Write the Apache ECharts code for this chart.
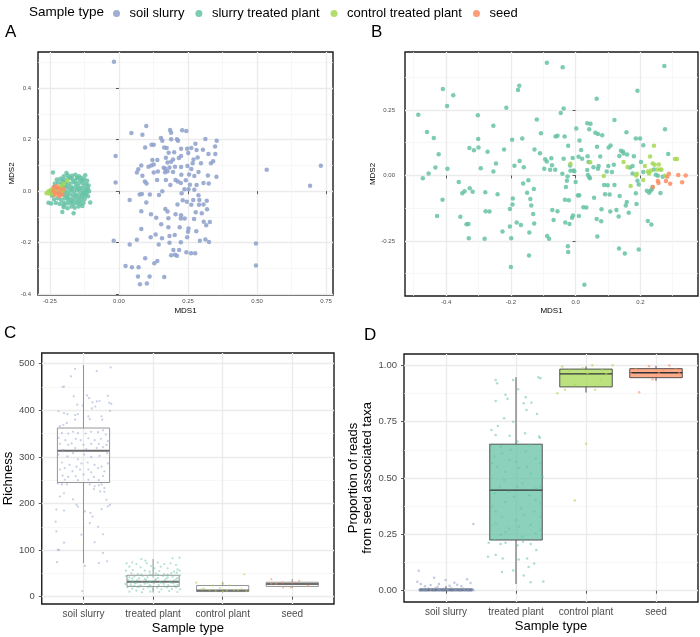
<!DOCTYPE html>
<html>
<head>
<meta charset="utf-8">
<script src="https://cdn.jsdelivr.net/npm/echarts@6/dist/echarts.min.js"></script>
<style>
  html, body { margin: 0; padding: 0; background: #fff; }
  #chart { width: 700px; height: 637px; }
</style>
</head>
<body>
<div id="chart"></div>
<script>
// ---- data ----
var groupNames = ["soil slurry", "slurry treated plant", "control treated plant", "seed"];
var boxCats = ["soil slurry", "treated plant", "control plant", "seed"];
var colors = ["#8DA0CB", "#66C2A5", "#A6D854", "#FC8D62"];

// A: NMDS of all samples
var mdsA_soil = [
  [-0.018,0.502],[-0.012,0.136],[-0.012,0.034],[-0.019,-0.192],[0.099,0.253],[0.045,0.226],[0.085,0.219],
  [0.185,0.237],[0.189,0.227],[0.229,0.236],[0.244,0.233],[0.152,0.206],[0.118,0.180],[0.126,0.180],
  [0.157,0.196],[0.189,0.201],[0.210,0.201],[0.214,0.196],[0.095,0.169],[0.164,0.169],[0.173,0.167],
  [0.225,0.165],[0.247,0.165],[0.262,0.167],[0.281,0.160],[0.304,0.161],[0.313,0.202],[0.354,0.196],
  [0.348,0.173],[0.277,0.184],[0.251,0.148],[0.324,0.144],[0.349,0.144],[0.180,0.149],[0.200,0.151],
  [0.217,0.129],[0.225,0.136],[0.121,0.121],[0.139,0.121],[0.170,0.130],[0.196,0.123],[0.176,0.111],
  [0.189,0.114],[0.267,0.108],[0.297,0.108],[0.333,0.108],[0.341,0.116],[0.285,0.131],[0.270,0.123],
  [0.081,0.100],[0.107,0.095],[0.117,0.100],[0.126,0.103],[0.162,0.091],[0.168,0.087],[0.183,0.092],
  [0.203,0.095],[0.225,0.094],[0.248,0.098],[0.262,0.086],[0.288,0.074],[0.070,0.085],[0.065,0.072],
  [0.085,0.060],[0.126,0.072],[0.141,0.076],[0.167,0.073],[0.176,0.077],[0.196,0.074],[0.226,0.064],
  [0.254,0.065],[0.273,0.059],[0.322,0.061],[0.353,0.056],[0.325,0.030],[0.306,0.032],[0.094,0.037],
  [0.100,0.030],[0.138,0.043],[0.170,0.043],[0.186,0.024],[0.205,0.043],[0.213,0.037],[0.224,0.032],
  [0.242,0.042],[0.257,0.025],[0.281,0.024],[0.039,-0.034],[0.075,-0.013],[0.083,-0.011],[0.112,-0.013],
  [0.145,-0.015],[0.099,-0.044],[0.157,0.000],[0.227,-0.008],[0.237,0.007],[0.252,0.007],[0.273,0.005],
  [0.288,-0.016],[0.231,-0.035],[0.246,-0.041],[0.269,-0.034],[0.291,-0.034],[0.318,-0.037],[0.262,-0.053],
  [0.290,-0.053],[0.306,-0.052],[0.212,-0.052],[0.081,-0.078],[0.116,-0.090],[0.168,-0.069],[0.176,-0.079],
  [0.205,-0.090],[0.225,-0.094],[0.238,-0.106],[0.278,-0.082],[0.300,-0.086],[0.319,-0.070],[0.135,-0.103],
  [0.153,-0.128],[0.179,-0.105],[0.224,-0.106],[0.272,-0.108],[0.307,-0.119],[0.329,-0.120],[0.081,-0.147],
  [0.179,-0.140],[0.220,-0.140],[0.252,-0.145],[0.280,-0.156],[0.316,-0.132],[0.115,-0.179],[0.133,-0.168],
  [0.156,-0.183],[0.183,-0.174],[0.202,-0.170],[0.247,-0.179],[0.250,-0.158],[0.293,-0.192],[0.313,-0.188],
  [0.326,-0.197],[0.224,-0.198],[0.065,-0.189],[0.039,-0.207],[0.144,-0.207],[0.183,-0.200],[0.197,-0.228],
  [0.203,-0.247],[0.189,-0.249],[0.210,-0.251],[0.218,-0.228],[0.244,-0.237],[0.261,-0.241],[0.276,-0.241],
  [0.095,-0.260],[0.139,-0.271],[0.128,-0.280],[0.024,-0.290],[0.047,-0.295],[0.071,-0.295],[0.069,-0.331],
  [0.076,-0.361],[0.101,-0.358],[0.111,-0.331],[0.164,-0.333],[0.496,-0.203],[0.496,-0.289],[0.535,0.083],
  [0.692,0.021],[0.731,0.099]
];
var mdsA_treated = [
  [-0.2,0.058],[-0.185,0.062],[-0.17,0.06],[-0.158,0.064],[-0.145,0.058],[-0.135,0.052],
  [-0.225,0.045],[-0.212,0.048],[-0.198,0.044],[-0.183,0.05],[-0.168,0.046],[-0.152,0.05],[-0.14,0.044],[-0.125,0.046],[-0.115,0.04],
  [-0.232,0.03],[-0.22,0.034],[-0.207,0.028],[-0.194,0.034],[-0.18,0.03],[-0.166,0.035],[-0.155,0.028],[-0.143,0.033],[-0.13,0.03],[-0.118,0.028],[-0.11,0.022],
  [-0.236,0.016],[-0.21,0.014],[-0.197,0.018],[-0.186,0.012],[-0.174,0.018],[-0.16,0.014],[-0.148,0.019],[-0.136,0.013],[-0.124,0.017],[-0.112,0.01],
  [-0.248,0.002],[-0.198,0.0],[-0.188,-0.004],[-0.176,0.003],[-0.164,-0.002],[-0.152,0.004],[-0.14,-0.003],[-0.128,0.002],[-0.116,-0.004],[-0.108,0.0],
  [-0.242,-0.018],[-0.2,-0.014],[-0.19,-0.018],[-0.178,-0.012],[-0.166,-0.017],[-0.154,-0.013],[-0.142,-0.018],[-0.13,-0.012],[-0.12,-0.016],[-0.112,-0.02],
  [-0.235,-0.032],[-0.222,-0.028],[-0.21,-0.033],[-0.196,-0.028],[-0.184,-0.034],[-0.172,-0.03],[-0.16,-0.035],[-0.148,-0.029],[-0.136,-0.033],[-0.124,-0.03],
  [-0.228,-0.046],[-0.214,-0.05],[-0.2,-0.044],[-0.188,-0.048],[-0.176,-0.045],[-0.164,-0.05],[-0.152,-0.046],[-0.14,-0.05],[-0.128,-0.045],[-0.104,-0.044],
  [-0.245,-0.048],[-0.2,-0.062],[-0.186,-0.066],[-0.172,-0.06],[-0.16,-0.064],[-0.146,-0.06],[-0.132,-0.058],
  [-0.239,0.072],[-0.205,-0.081],[-0.164,-0.086],[-0.255,-0.045],[-0.19,0.07],[-0.122,0.062],
  [-0.205,0.04],[-0.19,0.022],[-0.17,0.008],[-0.158,0.038],[-0.145,0.008],[-0.132,0.04],[-0.185,-0.025],[-0.17,-0.04],
  [-0.158,-0.022],[-0.145,-0.04],[-0.133,-0.022],[-0.2,-0.055],[-0.215,-0.01],[-0.205,0.025],[-0.175,0.052],[-0.125,-0.008],
  [-0.118,0.005],[-0.15,0.052]
];
var mdsA_control = [
  [-0.262,-0.008],[-0.255,0.0],[-0.25,-0.01],[-0.245,0.005],[-0.24,-0.012],[-0.232,0.002],[-0.226,0.01],
  [-0.22,-0.004],[-0.21,0.02],[-0.205,0.0],[-0.187,0.04],[-0.2,0.028],[-0.215,0.012]
];
var mdsA_seed = [
  [-0.238,0.0],[-0.232,-0.015],[-0.228,-0.005],[-0.222,0.012],[-0.218,-0.01],[-0.212,0.005],
  [-0.215,-0.02],[-0.205,-0.012],[-0.2,0.008],[-0.226,0.02],[-0.235,0.015]
];

// B: NMDS of plant and seed samples
var mdsB_treated = [
  [-0.486,0.232],[-0.472,-0.011],[-0.459,0.166],[-0.454,0.007],[-0.438,0.143],[-0.433,0.030],[-0.423,0.081],
  [-0.428,-0.155],[-0.410,0.330],[-0.411,-0.093],[-0.397,0.265],[-0.396,0.026],[-0.378,0.306],[-0.361,-0.025],
  [-0.356,-0.158],[-0.350,-0.068],[-0.343,-0.060],[-0.337,-0.186],[-0.331,-0.185],[-0.330,-0.240],[-0.327,-0.049],
  [-0.328,0.105],[-0.318,-0.062],[-0.314,0.096],[-0.302,0.230],[-0.301,0.139],[-0.300,0.107],[-0.293,0.027],
  [-0.281,-0.242],[-0.279,-0.064],[-0.278,-0.137],[-0.272,0.090],[-0.266,-0.138],[-0.254,0.190],[-0.254,0.015],
  [-0.246,0.046],[-0.241,-0.072],[-0.226,-0.214],[-0.221,0.099],[-0.214,0.258],[-0.203,-0.128],[-0.203,-0.195],
  [-0.200,-0.349],[-0.199,-0.240],[-0.196,0.136],[-0.195,-0.111],[-0.194,-0.088],[-0.189,0.037],[-0.182,-0.180],
  [-0.178,0.326],[-0.174,0.342],[-0.173,0.055],[-0.169,-0.189],[-0.165,0.141],[-0.162,-0.031],[-0.160,0.031],
  [-0.150,-0.066],[-0.146,-0.018],[-0.144,-0.305],[-0.143,-0.218],[-0.140,-0.090],[-0.137,-0.115],[-0.131,-0.147],
  [-0.129,-0.052],[-0.128,-0.183],[-0.127,0.099],[-0.120,0.213],[-0.110,0.085],[-0.107,0.161],[-0.097,0.026],
  [-0.094,0.062],[-0.089,0.430],[-0.089,0.053],[-0.088,-0.231],[-0.082,-0.242],[-0.079,0.022],[-0.075,0.066],
  [-0.073,0.039],[-0.072,-0.132],[-0.068,-0.170],[-0.063,0.022],[-0.062,0.149],[-0.056,-0.137],[-0.056,0.151],
  [-0.046,0.238],[-0.040,0.413],[-0.041,0.006],[-0.037,0.255],[-0.037,0.064],[-0.034,0.149],[-0.033,-0.093],
  [-0.032,-0.180],[-0.030,-0.044],[-0.027,-0.020],[-0.025,-0.004],[-0.024,-0.270],[-0.023,-0.292],[-0.023,0.113],
  [-0.021,-0.095],[-0.019,-0.185],[-0.017,0.038],[-0.016,0.018],[-0.011,-0.161],[-0.009,0.067],[-0.008,-0.153],
  [-0.006,0.019],[-0.004,0.016],[0.000,-0.025],[0.002,0.179],[0.007,-0.077],[0.009,0.071],[0.010,-0.155],
  [0.011,-0.076],[0.012,0.133],[0.017,0.097],[0.020,0.064],[0.024,-0.121],[0.027,-0.417],[0.033,-0.122],
  [0.036,0.199],[0.036,0.021],[0.037,0.073],[0.038,0.002],[0.040,0.051],[0.042,0.176],[0.042,-0.006],
  [0.044,-0.011],[0.046,0.197],[0.055,0.031],[0.057,-0.085],[0.061,0.163],[0.065,0.293],[0.065,-0.166],
  [0.066,0.109],[0.067,-0.233],[0.069,0.158],[0.069,0.026],[0.071,0.036],[0.076,0.072],[0.079,-0.175],
  [0.080,-0.129],[0.082,0.153],[0.088,-0.036],[0.091,-0.072],[0.096,0.015],[0.099,-0.037],[0.101,0.036],
  [0.102,0.107],[0.105,-0.073],[0.107,-0.138],[0.108,0.114],[0.112,0.013],[0.118,0.041],[0.120,-0.036],
  [0.120,0.212],[0.126,-0.132],[0.133,-0.157],[0.134,-0.279],[0.135,0.074],[0.136,-0.078],[0.140,0.094],
  [0.146,0.091],[0.148,0.084],[0.152,-0.298],[0.155,-0.115],[0.157,0.165],[0.158,-0.101],[0.159,0.080],
  [0.164,-0.142],[0.168,0.030],[0.176,0.036],[0.176,0.007],[0.180,0.073],[0.186,-0.068],[0.188,-0.109],
  [0.191,0.323],[0.191,-0.020],[0.186,0.141],[0.195,-0.035],[0.195,-0.283],[0.199,0.141],[0.202,0.051],
  [0.209,0.115],[0.209,0.013],[0.220,-0.058],[0.223,-0.174],[0.227,-0.066],[0.231,-0.058],[0.234,-0.187],
  [0.235,-0.054],[0.238,-0.045],[0.242,0.023],[0.254,-0.001],[0.262,-0.067],[0.276,0.176],[0.274,0.418],
  [0.286,0.082],[0.248,0.003],[0.269,-0.005]
];
var mdsB_control = [
  [-0.016,0.045],[0.045,0.050],[0.087,-0.002],[0.148,0.051],[0.160,0.032],[0.170,-0.040],[0.187,0.000],
  [0.189,0.006],[0.209,-0.017],[0.214,0.036],[0.223,0.015],[0.227,0.007],[0.230,0.072],[0.233,0.019],
  [0.238,0.046],[0.242,0.113],[0.244,0.041],[0.252,0.023],[0.257,0.042],[0.261,0.023],[0.265,0.022],
  [0.307,0.063],[0.313,0.063],[0.276,-0.001]
];
var mdsB_seed = [
  [0.238,-0.044],[0.254,-0.021],[0.256,-0.029],[0.279,-0.021],[0.288,0.006],[0.292,-0.032],
  [0.317,0.002],[0.329,-0.026],[0.340,0.000],[0.283,-0.005]
];

// C: richness, box stats [min, q1, median, q3, max] and jittered samples [x, richness]
var richBox = [[72,245,313,362,497],[9,22,32,46,81],[9,11,13.5,24,32],[19,22,27,31,38]];
var rich_soil = [
  [0.88,489],[0.82,473],[1.19,484],[1.39,492],[0.70,450],[0.72,451],[0.86,430],[1.05,432],[1.08,426],[1.35,431],
  [1.13,417],[1.19,419],[1.23,420],[0.91,412],[0.99,410],[1.37,416],[1.40,414],[0.64,398],[0.72,394],[0.77,392],
  [0.88,390],[0.92,392],[1.12,404],[1.17,408],[1.38,399],[1.07,387],[1.26,387],[1.09,381],[0.71,369],[0.76,373],
  [0.88,380],[1.27,380],[0.66,366],[0.69,351],[0.78,350],[0.85,354],[0.92,351],[1.03,350],[1.11,354],[1.21,353],
  [1.28,357],[1.32,348],[0.64,341],[0.74,336],[0.89,339],[0.96,336],[1.07,340],[1.16,336],[1.25,339],[1.35,334],
  [0.66,328],[0.78,326],[0.83,329],[1.00,326],[1.11,328],[1.22,328],[1.33,326],[0.71,315],[0.88,319],[1.04,317],
  [1.19,319],[1.28,321],[0.64,305],[0.77,301],[0.85,308],[0.92,295],[1.01,305],[1.11,300],[1.23,302],[1.34,308],
  [0.69,288],[0.80,283],[0.90,279],[0.97,286],[1.06,288],[1.16,283],[1.26,279],[1.35,286],[0.66,273],[0.73,276],
  [0.84,269],[0.95,273],[1.07,273],[1.11,267],[1.21,276],[1.30,269],[0.70,260],[0.78,257],[0.89,259],[1.00,262],
  [1.15,257],[1.28,259],[0.73,251],[0.92,250],[1.07,251],[1.22,250],[0.63,243],[0.69,241],[0.76,241],[1.09,241],
  [1.16,237],[1.22,239],[1.26,241],[1.30,233],[1.15,231],[1.24,226],[1.30,225],[0.72,222],[0.66,215],[0.85,209],
  [1.33,208],[0.90,197],[0.92,193],[1.38,197],[1.35,194],[0.61,187],[0.72,185],[1.02,183],[1.10,180],[1.13,172],
  [1.26,188],[1.09,158],[1.21,150],[0.60,161],[0.61,140],[0.97,133],[1.28,134],[0.72,116],[1.16,117],[0.63,101],
  [0.65,100],[1.28,94],[0.62,74],[1.02,66],[1.22,72],[1.34,76],[0.98,12]
];
var rich_treated = [
  [1.83,80.9],[1.89,77.3],[1.70,73.8],[1.62,71.6],[1.76,70.2],[1.91,71.6],[2.28,82.3],[2.38,83.8],[2.07,73.1],[2.16,70.2],
  [2.25,71.6],[2.33,68],[1.66,64.4],[1.82,63],[1.97,65.8],[2.02,60.8],[2.11,64.4],[2.21,60.8],[2.35,58.6],[1.61,55.8],
  [1.71,57.2],[1.88,55.8],[1.95,53.7],[2.09,55.1],[2.30,53.7],[2.38,55.8],[1.69,50.1],[1.78,48.7],[2.04,50.1],[2.16,48.7],
  [2.26,50.1],[2.34,51.6],[1.61,44.4],[1.66,41.6],[1.73,43],[1.80,39.4],[1.85,44.4],[1.92,41.6],[2.00,43],[2.07,40.1],
  [2.14,44.4],[2.21,41.6],[2.28,43],[2.35,40.1],[2.39,45.8],[1.64,35.8],[1.71,33],[1.77,35.8],[1.84,31.5],[1.90,35.8],
  [1.96,32.2],[2.03,35.1],[2.10,31.5],[2.17,35.8],[2.24,32.2],[2.30,35.1],[2.37,31.5],[1.60,27.3],[1.68,25.1],[1.74,28.7],
  [1.82,24.4],[1.88,28],[1.95,24.4],[2.01,28.7],[2.08,25.1],[2.15,28],[2.22,24.4],[2.29,28.7],[2.35,25.1],[1.63,20.1],
  [1.70,17.3],[1.78,20.9],[1.86,16.6],[1.93,20.1],[2.00,15.8],[2.06,19.4],[2.12,15.8],[2.20,20.1],[2.27,16.6],[2.33,20.1],
  [2.39,15.8],[1.66,10.8],[1.76,12.9],[1.84,9.4],[1.96,10.8],[2.09,10.1],[2.23,12.2],[2.35,10.1],[1.70,38.8],[1.88,38],
  [2.04,37.3],[2.19,38.8],[2.33,37.3],[1.76,30.1],[1.92,30.1],[2.11,30.1],[2.26,30.1],[1.68,30.1],[1.80,21.6],[1.97,21.6],
  [2.16,21.6],[2.31,23],[1.73,23],[2.07,47.2],[1.96,47.2],[1.83,47.2],[2.21,47.2]
];
var rich_control = [
  [2.62,30],[2.73,17.2],[2.70,15.8],[2.86,23.6],[2.90,12.9],[2.96,18.6],[3.00,28.6],[3.00,11.5],
  [3.06,12.9],[3.10,24.3],[3.16,14.3],[3.22,14.3],[3.27,16.5],[3.31,47.9],[3.34,12.2],[2.81,14.3]
];
var rich_seed = [
  [3.70,37.6],[3.70,28.3],[3.77,27.6],[3.86,30.5],[3.87,19.7],[4.00,30.5],[4.10,34],[4.23,23.3],[3.98,19.7]
];

// D: proportion of reads from seed associated taxa
var propBox = [[0,0,0.003,0.008,0.02],[0.03,0.225,0.446,0.65,0.947],[0.879,0.904,0.962,0.983,0.995],[0.931,0.945,0.967,0.985,0.997]];
var prop_soil = [
  [0.62,0.004],[0.65,0.002],[0.67,0.008],[0.69,0.001],[0.71,0.005],[0.73,0.003],[0.75,0.01],[0.77,0.002],[0.79,0.006],
  [0.81,0.001],[0.83,0.004],[0.85,0.012],[0.87,0.003],[0.89,0.007],[0.91,0.002],[0.93,0.005],[0.95,0.001],[0.97,0.009],
  [0.99,0.003],[1.01,0.006],[1.03,0.002],[1.05,0.004],[1.07,0.011],[1.09,0.001],[1.11,0.005],[1.13,0.003],[1.15,0.008],
  [1.17,0.002],[1.19,0.006],[1.21,0.001],[1.23,0.004],[1.25,0.009],[1.27,0.002],[1.29,0.005],[1.31,0.003],[1.33,0.007],
  [1.35,0.001],[1.37,0.004],[1.39,0.002],[0.63,0.0],[0.68,0.003],[0.72,0.0],[0.78,0.004],[0.84,0.0],[0.9,0.002],
  [0.96,0.0],[1.02,0.003],[1.08,0.0],[1.14,0.002],[1.2,0.0],[1.26,0.003],[1.32,0.0],[1.38,0.006],
  [0.61,0.089],[0.83,0.058],[0.59,0.04],[0.995,0.048],[1.16,0.026],[1.30,0.051],[1.35,0.034],[0.64,0.03],[0.7,0.02],
  [0.78,0.025],[0.9,0.03],[1.05,0.022],[1.12,0.035],[1.22,0.02],[0.88,0.018],[1.39,0.296]
];
var prop_treated = [
  [1.71,0.935],[1.96,0.935],[2.32,0.947],[2.35,0.942],[2.03,0.894],[1.73,0.920],[1.85,0.869],[1.88,0.851],[1.71,0.842],
  [2.14,0.858],[2.11,0.831],[2.22,0.834],[1.83,0.765],[2.30,0.784],[2.15,0.802],[1.96,0.750],[1.74,0.731],[1.65,0.713],
  [1.71,0.691],[2.13,0.698],[2.33,0.684],[2.34,0.679],[1.91,0.687],[2.02,0.662],[1.78,0.640],[1.80,0.610],[2.14,0.617],
  [1.69,0.595],[1.91,0.580],[2.28,0.587],[2.35,0.565],[1.73,0.550],[2.04,0.543],[1.85,0.528],[2.21,0.520],[1.64,0.506],
  [2.38,0.506],[1.83,0.491],[2.09,0.476],[1.77,0.461],[2.28,0.454],[1.70,0.432],[1.97,0.417],[2.19,0.424],[1.85,0.395],
  [2.35,0.388],[1.66,0.373],[2.07,0.365],[2.26,0.351],[1.80,0.328],[2.00,0.313],[1.71,0.298],[2.21,0.291],[1.90,0.276],
  [2.35,0.269],[1.78,0.247],[2.09,0.239],[1.61,0.213],[1.70,0.225],[1.78,0.207],[1.85,0.213],[2.02,0.202],[2.10,0.217],
  [2.21,0.207],[2.29,0.181],[1.60,0.151],[1.71,0.158],[1.81,0.143],[2.04,0.139],[2.16,0.143],[2.26,0.121],[1.80,0.083],
  [2.18,0.105],[2.11,0.068],[2.21,0.038],[2.39,0.041],[1.96,0.090],[1.64,0.640],[1.92,0.625],[2.19,0.647],[1.66,0.565],
  [2.00,0.572],[2.16,0.550],[2.02,0.461],[2.35,0.461],[1.64,0.454],[1.90,0.439],[2.28,0.402],[1.71,0.351],[2.11,0.336],
  [2.35,0.328],[1.64,0.291],[2.04,0.284],[2.28,0.254],[1.85,0.261]
];
var prop_control = [
  [2.59,0.876],[2.70,0.891],[3.00,0.652],[2.84,0.400],[2.66,0.995],[2.76,0.977],[2.95,0.987],[3.09,1.0],
  [3.23,0.979],[3.38,1.0],[3.13,0.891],[3.02,0.965],[3.21,0.935],[2.85,0.913],[3.29,0.962]
];
var prop_seed = [
  [3.76,0.880],[3.64,0.965],[3.71,0.984],[3.95,0.938],[4.04,0.965],[4.19,0.999],[4.28,0.983],[4.33,0.965],[3.90,0.996],[4.11,0.979]
];

// ---- helpers ----
var FONT = "Liberation Sans, Arial, Helvetica, sans-serif";
var TICKC = "#4D4D4D";

function mainAxis(dim, grid, min, max, ticks, fmt, fs, margin, name, nameGap, nameSize) {
  return {
    type: "value", gridIndex: grid, min: min, max: max,
    position: dim === "x" ? "bottom" : "left",
    axisLine: { show: false },
    axisTick: { show: true, length: 3, customValues: ticks, lineStyle: { color: "#333", width: 0.8 } },
    axisLabel: { customValues: ticks, formatter: fmt, fontSize: fs, color: TICKC, margin: margin, fontFamily: FONT },
    splitLine: { show: true, lineStyle: { color: "#EBEBEB", width: 1.3 } },
    name: name, nameLocation: "middle", nameGap: nameGap,
    nameTextStyle: { fontSize: nameSize, color: "#000", fontFamily: FONT, lineHeight: nameSize + 1 }
  };
}
function minorAxis(dim, grid, min, max, vals) {
  return {
    type: "value", gridIndex: grid, min: min, max: max,
    position: dim === "x" ? "top" : "right",
    axisLine: { show: false },
    axisTick: { show: false, customValues: vals },
    axisLabel: { show: false, customValues: vals },
    splitLine: { show: true, lineStyle: { color: "#F3F3F3", width: 0.7 } }
  };
}
function fixed(n) { return function (v) { return (+v).toFixed(n); }; }
function catName(v) { var i = Math.round(v) - 1; return boxCats[i] || ""; }

function scatter(name, data, xi, yi, color, size, opacity) {
  return {
    type: "scatter", name: name, data: data, xAxisIndex: xi, yAxisIndex: yi,
    symbolSize: size, silent: true,
    itemStyle: { color: color, opacity: opacity }
  };
}
function boxSeries(stats, xi, yi, fills, stroke, medStroke, medWidth) {
  return {
    type: "custom", xAxisIndex: xi, yAxisIndex: yi, silent: true,
    data: stats.map(function (b, i) { return [i + 1].concat(b); }),
    encode: { x: 0, y: [1, 5] },
    renderItem: function (params, api) {
      var x = api.value(0), lo = api.value(1), q1 = api.value(2), med = api.value(3), q3 = api.value(4), hi = api.value(5);
      var hw = 0.375;
      var tl = api.coord([x - hw, q3]), br = api.coord([x + hw, q1]);
      var top = api.coord([x, hi]), bot = api.coord([x, lo]);
      var m1 = api.coord([x - hw, med]), m2 = api.coord([x + hw, med]);
      return {
        type: "group",
        children: [
          { type: "line", shape: { x1: top[0], y1: top[1], x2: top[0], y2: tl[1] }, style: { stroke: stroke, lineWidth: 0.9 } },
          { type: "line", shape: { x1: bot[0], y1: br[1], x2: bot[0], y2: bot[1] }, style: { stroke: stroke, lineWidth: 0.9 } },
          { type: "rect", shape: { x: tl[0], y: tl[1], width: br[0] - tl[0], height: Math.max(br[1] - tl[1], 0.5) },
            style: { fill: fills[params.dataIndex], stroke: stroke, lineWidth: 0.9 } },
          { type: "line", shape: { x1: m1[0], y1: m1[1], x2: m2[0], y2: m2[1] }, style: { stroke: medStroke, lineWidth: medWidth } }
        ]
      };
    }
  };
}

var chart = echarts.init(document.getElementById("chart"), null, { renderer: "canvas" });

var gridStyle = { show: true, borderColor: "#1A1A1A", borderWidth: 1.4, backgroundColor: "#fff", containLabel: false };
var grids = [
  Object.assign({ left: 38, top: 52, width: 295, height: 243 }, gridStyle),
  Object.assign({ left: 405, top: 52, width: 293, height: 244 }, gridStyle),
  Object.assign({ left: 39, top: 353, width: 295, height: 251 }, gridStyle),
  Object.assign({ left: 404, top: 354, width: 294, height: 248 }, gridStyle)
];

var xAxes = [
  mainAxis("x", 0, -0.293, 0.775, [-0.25, 0, 0.25, 0.5, 0.75], fixed(2), 6, 3.5, "MDS1", 11, 8),
  minorAxis("x", 0, -0.293, 0.775, [-0.125, 0.125, 0.375, 0.625]),
  mainAxis("x", 1, -0.527, 0.378, [-0.4, -0.2, 0, 0.2], fixed(1), 6, 3.5, "MDS1", 10, 8),
  minorAxis("x", 1, -0.527, 0.378, [-0.5, -0.3, -0.1, 0.1, 0.3]),
  mainAxis("x", 2, 0.4, 4.6, [1, 2, 3, 4], catName, 10, 5, "Sample type", 17, 13),
  mainAxis("x", 3, 0.4, 4.6, [1, 2, 3, 4], catName, 10, 5, "Sample type", 17, 13)
];
var yAxes = [
  mainAxis("y", 0, -0.403, 0.54, [-0.4, -0.2, 0, 0.2, 0.4], fixed(1), 6, 7, "MDS2", 15, 8),
  minorAxis("y", 0, -0.403, 0.54, [-0.3, -0.1, 0.1, 0.3, 0.5]),
  mainAxis("y", 1, -0.46, 0.471, [-0.25, 0, 0.25], fixed(2), 6, 10, "MDS2", 18, 8),
  minorAxis("y", 1, -0.46, 0.471, [-0.375, -0.125, 0.125, 0.375]),
  mainAxis("y", 2, -15.7, 523, [0, 100, 200, 300, 400, 500], fixed(0), 9.5, 7, "Richness", 25, 13),
  minorAxis("y", 2, -15.7, 523, [50, 150, 250, 350, 450]),
  mainAxis("y", 3, -0.05, 1.05, [0, 0.25, 0.5, 0.75, 1], fixed(2), 9.5, 7, "Proportion of reads\nfrom seed associated taxa", 22, 13),
  minorAxis("y", 3, -0.05, 1.05, [0.125, 0.375, 0.625, 0.875])
];

var boxFillsC = ["rgba(255,255,255,0)", "rgba(255,255,255,0)", "rgba(255,255,255,0)", "rgba(255,255,255,0)"];
var boxFillsD = ["rgba(141,160,203,0.75)", "rgba(102,194,165,0.75)", "rgba(166,216,84,0.75)", "rgba(252,141,98,0.75)"];

var series = [
  scatter(groupNames[0], mdsA_soil, 0, 0, colors[0], 4.5, 0.85),
  scatter(groupNames[1], mdsA_treated, 0, 0, colors[1], 4.5, 0.85),
  scatter(groupNames[2], mdsA_control, 0, 0, colors[2], 4.5, 0.85),
  scatter(groupNames[3], mdsA_seed, 0, 0, colors[3], 4.5, 0.85),

  scatter(groupNames[1], mdsB_treated, 2, 2, colors[1], 4.5, 0.85),
  scatter(groupNames[2], mdsB_control, 2, 2, colors[2], 4.5, 0.85),
  scatter(groupNames[3], mdsB_seed, 2, 2, colors[3], 4.5, 0.85),

  boxSeries(richBox, 4, 4, boxFillsC, "#8A8A8A", "#6E6E6E", 2),
  scatter(groupNames[0], rich_soil, 4, 4, colors[0], 2.2, 0.5),
  scatter(groupNames[1], rich_treated, 4, 4, colors[1], 2.2, 0.5),
  scatter(groupNames[2], rich_control, 4, 4, colors[2], 2.2, 0.6),
  scatter(groupNames[3], rich_seed, 4, 4, colors[3], 2.2, 0.6),

  boxSeries(propBox, 5, 6, boxFillsD, "#444", "#333", 1.4),
  scatter(groupNames[0], prop_soil, 5, 6, colors[0], 2.5, 0.55),
  scatter(groupNames[1], prop_treated, 5, 6, colors[1], 2.5, 0.55),
  scatter(groupNames[2], prop_control, 5, 6, colors[2], 2.5, 0.6),
  scatter(groupNames[3], prop_seed, 5, 6, colors[3], 2.5, 0.6)
];

var option = {
  animation: false,
  backgroundColor: "#fff",
  textStyle: { fontFamily: FONT },
  legend: {
    left: 108, top: 2, icon: "circle", itemWidth: 16, itemHeight: 7, itemGap: 11,
    selectedMode: false, data: groupNames,
    textStyle: { fontSize: 13, color: "#000", fontFamily: FONT }
  },
  graphic: [
    { type: "text", left: 29, top: 5, style: { text: "Sample type", fontSize: 13.5, fill: "#000", fontFamily: FONT } },
    { type: "text", left: 5, top: 24, style: { text: "A", fontSize: 17, fill: "#000", fontFamily: FONT } },
    { type: "text", left: 371, top: 24, style: { text: "B", fontSize: 17, fill: "#000", fontFamily: FONT } },
    { type: "text", left: 4, top: 325, style: { text: "C", fontSize: 17, fill: "#000", fontFamily: FONT } },
    { type: "text", left: 364, top: 327, style: { text: "D", fontSize: 17, fill: "#000", fontFamily: FONT } }
  ],
  grid: grids,
  xAxis: xAxes,
  yAxis: yAxes,
  series: series
};
chart.setOption(option);
</script>
</body>
</html>
